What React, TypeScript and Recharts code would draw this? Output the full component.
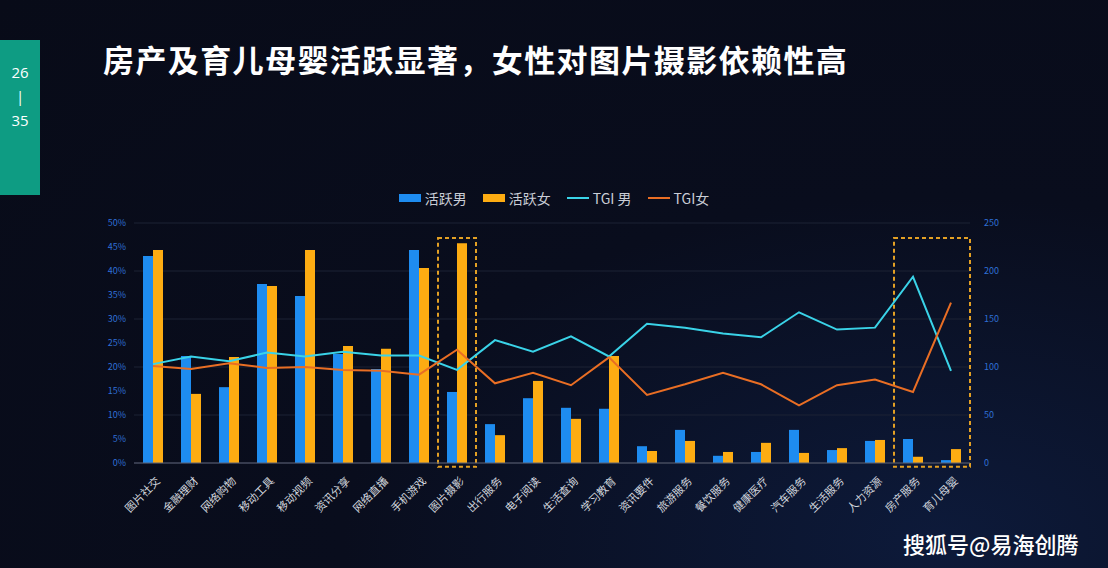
import React from "react";
import {
  Bar,
  CartesianGrid,
  ComposedChart,
  Legend,
  Line,
  ReferenceArea,
  XAxis,
  YAxis,
} from "recharts";

const categories = [
  "图片社交", "金融理财", "网络购物", "移动工具", "移动视频", "资讯分享",
  "网络直播", "手机游戏", "图片摄影", "出行服务", "电子阅读", "生活查询",
  "学习教育", "资讯要件", "旅游服务", "餐饮服务", "健康医疗", "汽车服务",
  "生活服务", "人力资源", "房产服务", "育儿母婴",
];
const activeMale = [43.1, 22.3, 15.8, 37.3, 34.8, 22.7, 19.6, 44.4, 14.8, 8.1, 13.5, 11.5, 11.3, 3.5, 6.9, 1.5, 2.3, 6.9, 2.7, 4.6, 5.0, 0.6];
const activeFemale = [44.4, 14.4, 22.1, 36.9, 44.4, 24.4, 23.8, 40.6, 45.8, 5.8, 17.1, 9.2, 22.3, 2.5, 4.6, 2.3, 4.2, 2.1, 3.1, 4.8, 1.3, 2.9];
const tgiMale = [103, 111, 106, 115, 111, 116, 112, 112, 97, 128, 116, 132, 111, 145, 141, 135, 131, 157, 139, 141, 194, 96];
const tgiFemale = [101, 98, 104, 99, 100, 97, 96, 92, 118, 83, 94, 81, 110, 71, 82, 94, 82, 60, 81, 87, 74, 167];
const leftTicks = [0, 5, 10, 15, 20, 25, 30, 35, 40, 45, 50];
const rightTicks = [0, 50, 100, 150, 200, 250];
const legendOrder = ["活跃男", "活跃女", "TGI 男", "TGI女"];

const data = categories.map((name, i) => ({
  name,
  male: activeMale[i],
  female: activeFemale[i],
  tgiMale: tgiMale[i],
  tgiFemale: tgiFemale[i],
}));

const FONT = '"Noto Sans CJK SC", "Noto Sans", sans-serif';

function CategoryTick(props: any) {
  const { x, y, payload } = props;
  return (
    <g transform={`translate(${x + 5},${y + 8})`}>
      <text transform="rotate(-45)" textAnchor="end" dy={4} fill="#d2d6de" fontSize={11} fontFamily={FONT}>
        {payload.value}
      </text>
    </g>
  );
}

function renderLegend(props: any) {
  const items = [...(props.payload || [])].sort(
    (a: any, b: any) => legendOrder.indexOf(a.value) - legendOrder.indexOf(b.value)
  );
  return (
    <div style={{ display: "flex", justifyContent: "center", gap: 16, fontFamily: FONT, fontSize: 14, color: "#c9cdd6" }}>
      {items.map((item: any) => (
        <div key={item.value} style={{ display: "flex", alignItems: "center", gap: 4 }}>
          {item.type === "rect" ? (
            <span style={{ display: "inline-block", width: 22, height: 8, background: item.color }} />
          ) : (
            <span style={{ display: "inline-block", width: 22, height: 2, background: item.color }} />
          )}
          <span>{item.value}</span>
        </div>
      ))}
    </div>
  );
}

export default function App() {
  return (
    <div
      style={{
        position: "absolute",
        left: 0,
        top: 0,
        width: 1108,
        height: 568,
        overflow: "hidden",
        background: "radial-gradient(ellipse at 85% 95%, #0d1a3a 0%, #090d1d 45%, #080b18 100%)",
        fontFamily: FONT,
      }}
    >
      <div
        style={{
          position: "absolute",
          left: 0,
          top: 40,
          width: 40,
          height: 155,
          background: "#0e9c83",
          color: "#ffffff",
          fontSize: 15,
          textAlign: "center",
          lineHeight: "24px",
          paddingTop: 20,
          boxSizing: "border-box",
          fontFamily: '"Open Sans", sans-serif',
        }}
      >
        <div>26</div>
        <div>|</div>
        <div>35</div>
      </div>
      <div
        style={{
          position: "absolute",
          left: 103,
          top: 36,
          fontSize: 31,
          fontWeight: 700,
          color: "#ffffff",
          whiteSpace: "nowrap",
          letterSpacing: 1.4,
        }}
      >
        房产及育儿母婴活跃显著，女性对图片摄影依赖性高
      </div>
      <div style={{ position: "absolute", left: 0, top: 0 }}>
        <ComposedChart
          width={1108}
          height={568}
          data={data}
          margin={{ top: 223, right: 88, bottom: 35, left: 74 }}
          barGap={0}
          barSize={10}
        >
          <CartesianGrid yAxisId="right" vertical={false} stroke="#1d2335" />
          <XAxis
            dataKey="name"
            interval={0}
            height={70}
            tick={<CategoryTick />}
            tickLine={false}
            axisLine={{ stroke: "#5a6074" }}
          />
          <YAxis
            yAxisId="left"
            width={60}
            domain={[0, 50]}
            ticks={leftTicks}
            tickFormatter={(v: number) => `${v}%`}
            tick={{ fill: "#2f6fd6", fontSize: 9 }}
            axisLine={false}
            tickLine={false}
          />
          <YAxis
            yAxisId="right"
            orientation="right"
            width={50}
            domain={[0, 250]}
            ticks={rightTicks}
            tick={{ fill: "#2f6fd6", fontSize: 9, dx: 6 }}
            axisLine={false}
            tickLine={false}
          />
          <Legend
            verticalAlign="middle"
            content={renderLegend}
            wrapperStyle={{ top: 188, left: 0, width: 1108 }}
          />
          <Bar yAxisId="left" dataKey="male" name="活跃男" fill="#1e8cf0" legendType="rect" isAnimationActive={false} />
          <Bar yAxisId="left" dataKey="female" name="活跃女" fill="#fdac12" legendType="rect" isAnimationActive={false} />
          <Line yAxisId="right" type="linear" dataKey="tgiMale" name="TGI 男" stroke="#3ad3e8" strokeWidth={2} dot={false} legendType="line" isAnimationActive={false} />
          <Line yAxisId="right" type="linear" dataKey="tgiFemale" name="TGI女" stroke="#e96e24" strokeWidth={2} dot={false} legendType="line" isAnimationActive={false} />
          <ReferenceArea
            yAxisId="left"
            x1="图片摄影"
            x2="图片摄影"
            y1={-0.8}
            y2={46.9}
            ifOverflow="visible"
            fill="none"
            stroke="#e3a024"
            strokeWidth={2}
            strokeDasharray="4 3"
          />
          <ReferenceArea
            yAxisId="left"
            x1="房产服务"
            x2="育儿母婴"
            y1={-0.8}
            y2={46.9}
            ifOverflow="visible"
            fill="none"
            stroke="#e3a024"
            strokeWidth={2}
            strokeDasharray="4 3"
          />
        </ComposedChart>
      </div>
      <div
        style={{
          position: "absolute",
          left: 903,
          top: 527,
          fontSize: 22,
          fontWeight: 500,
          color: "#ffffff",
          whiteSpace: "nowrap",
        }}
      >
        搜狐号@易海创腾
      </div>
    </div>
  );
}
